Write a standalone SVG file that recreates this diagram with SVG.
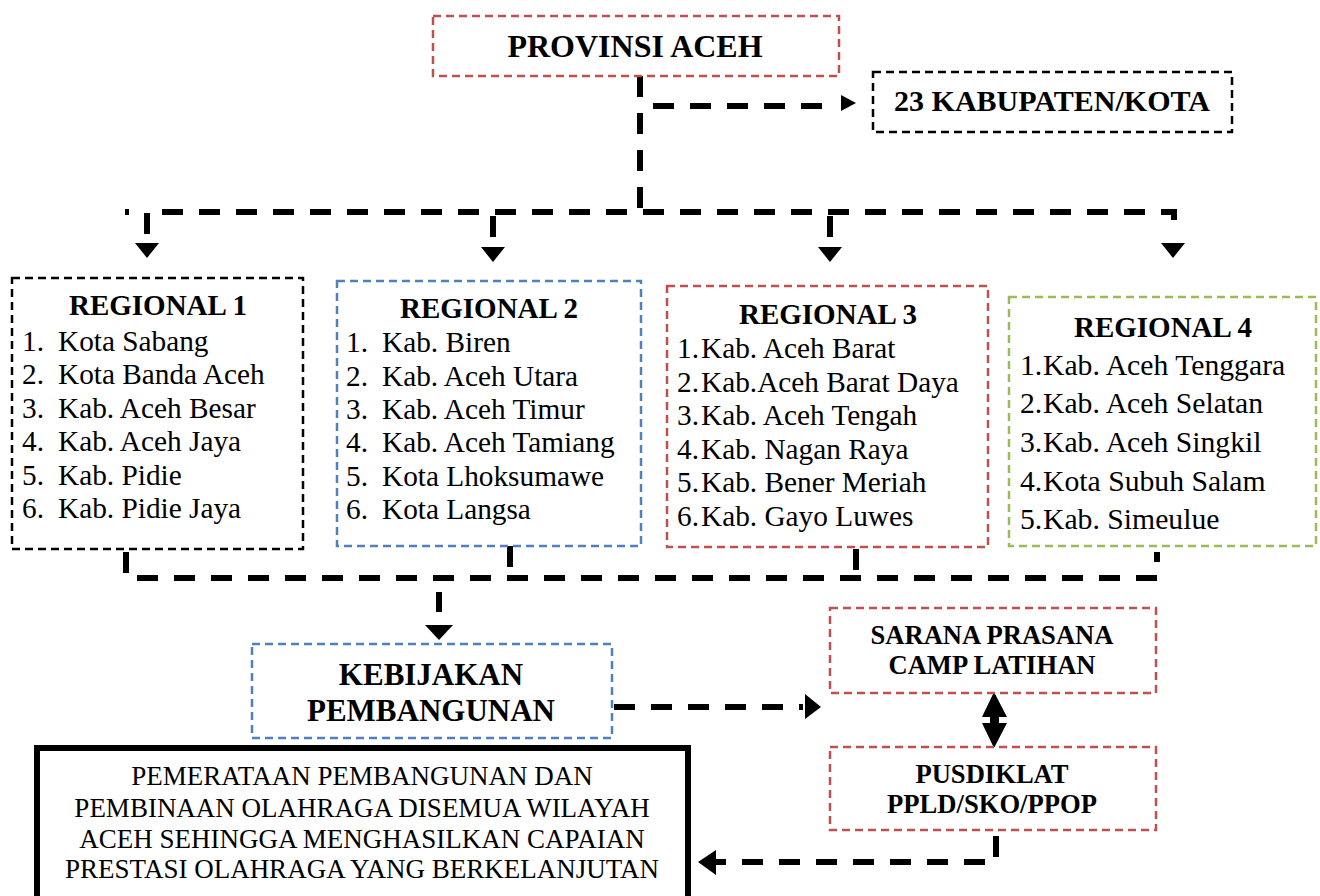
<svg xmlns="http://www.w3.org/2000/svg" width="1320" height="896" viewBox="0 0 1320 896">
<style>
.box{fill:#fff;stroke-width:2.5;stroke-dasharray:8 5}
.red{stroke:#c0504d}.blue{stroke:#4f81bd}.green{stroke:#9bbb59}.blk{stroke:#000}
.t{font-family:"Liberation Serif","Times New Roman",serif;fill:#000}
.b{font-weight:bold}
.conn{fill:none;stroke:#000;stroke-width:6;stroke-dasharray:21 16}
.r13{font-size:29.3px}.r4{font-size:29.7px}.title{font-size:29px;font-weight:bold;text-anchor:middle}
.mid{text-anchor:middle}
</style>
<defs>
<polygon id="ad" points="-12,0 12,0 0,15" fill="#000"/>
<polygon id="ar" points="0,-8 0,8 15,0" fill="#000"/>
</defs>
<rect width="1320" height="896" fill="#fff"/>

<g id="connectors">
<path class="conn" d="M640 76 V212"/>
<path class="conn" d="M653 106 H838"/>
<use href="#ar" x="841" y="103"/>
<path class="conn" d="M125 212 H129"/>
<path class="conn" d="M147 234 V212 H1174 V234"/>
<path class="conn" d="M493 216 V238"/>
<path class="conn" d="M830 216 V238"/>
<use href="#ad" x="147" y="243"/>
<use href="#ad" x="493" y="247"/>
<use href="#ad" x="830" y="247"/>
<use href="#ad" x="1173" y="243"/>
<path class="conn" d="M126 552 V578 H1157 V552"/>
<path class="conn" d="M510 546 V578"/>
<path class="conn" d="M856 549 V578"/>
<path class="conn" d="M439 592 V612"/>
<polygon points="425,625 453,625 439,640" fill="#000"/>
<path class="conn" d="M614 707 H803"/>
<polygon points="805,694 805,719 821,707" fill="#000"/>
<polygon points="994,692 1007,717 999,717 999,723 1007,723 994,748 982,723 990,723 990,717 982,717" fill="#000"/>
<path class="conn" d="M996 836 V862 H716"/>
<polygon points="716,850 716,875 698,862" fill="#000"/>
</g>

<g id="provinsi">
<rect class="box red" x="433" y="16" width="406" height="60"/>
<text class="t b mid" x="635" y="57" font-size="32">PROVINSI ACEH</text>
</g>

<g id="kabupaten">
<rect class="box blk" x="873" y="72" width="359" height="60"/>
<text class="t b mid" x="1052" y="111" font-size="30">23 KABUPATEN/KOTA</text>
</g>

<g id="regional1">
<rect class="box blk" x="12" y="278" width="291" height="271"/>
<text class="t title" x="158" y="315">REGIONAL 1</text>
<g class="t r13">
<text x="22" y="351">1.</text><text x="58" y="351">Kota Sabang</text>
<text x="22" y="384">2.</text><text x="58" y="384">Kota Banda Aceh</text>
<text x="22" y="418">3.</text><text x="58" y="418">Kab. Aceh Besar</text>
<text x="22" y="451">4.</text><text x="58" y="451">Kab. Aceh Jaya</text>
<text x="22" y="485">5.</text><text x="58" y="485">Kab. Pidie</text>
<text x="22" y="518">6.</text><text x="58" y="518">Kab. Pidie Jaya</text>
</g>
</g>

<g id="regional2">
<rect class="box blue" x="337" y="281" width="304" height="265"/>
<text class="t title" x="489" y="318">REGIONAL 2</text>
<g class="t r13">
<text x="346" y="352">1.</text><text x="382" y="352">Kab. Biren</text>
<text x="346" y="386">2.</text><text x="382" y="386">Kab. Aceh Utara</text>
<text x="346" y="419">3.</text><text x="382" y="419">Kab. Aceh Timur</text>
<text x="346" y="452">4.</text><text x="382" y="452">Kab. Aceh Tamiang</text>
<text x="346" y="486">5.</text><text x="382" y="486">Kota Lhoksumawe</text>
<text x="346" y="519">6.</text><text x="382" y="519">Kota Langsa</text>
</g>
</g>

<g id="regional3">
<rect class="box red" x="667" y="286" width="321" height="261"/>
<text class="t title" x="828" y="324">REGIONAL 3</text>
<g class="t r13">
<text x="677" y="358">1.</text><text x="701" y="358">Kab. Aceh Barat</text>
<text x="677" y="392">2.</text><text x="701" y="392">Kab.Aceh Barat Daya</text>
<text x="677" y="425">3.</text><text x="701" y="425">Kab. Aceh Tengah</text>
<text x="677" y="459">4.</text><text x="701" y="459">Kab. Nagan Raya</text>
<text x="677" y="492">5.</text><text x="701" y="492">Kab. Bener Meriah</text>
<text x="677" y="526">6.</text><text x="701" y="526">Kab. Gayo Luwes</text>
</g>
</g>

<g id="regional4">
<rect class="box green" x="1009" y="297" width="307" height="249"/>
<text class="t title" x="1163" y="337">REGIONAL 4</text>
<g class="t r4">
<text x="1020" y="375">1.</text><text x="1043" y="375">Kab. Aceh Tenggara</text>
<text x="1020" y="413">2.</text><text x="1043" y="413">Kab. Aceh Selatan</text>
<text x="1020" y="452">3.</text><text x="1043" y="452">Kab. Aceh Singkil</text>
<text x="1020" y="491">4.</text><text x="1043" y="491">Kota Subuh Salam</text>
<text x="1020" y="529">5.</text><text x="1043" y="529">Kab. Simeulue</text>
</g>
</g>

<g id="kebijakan">
<rect class="box blue" x="252" y="644" width="360" height="94"/>
<text class="t b mid" x="431" y="685" font-size="31">KEBIJAKAN</text>
<text class="t b mid" x="431" y="721" font-size="31">PEMBANGUNAN</text>
</g>

<g id="sarana">
<rect class="box red" x="830" y="608" width="326" height="85"/>
<text class="t b mid" x="992" y="644" font-size="26.6">SARANA PRASANA</text>
<text class="t b mid" x="992" y="674" font-size="26.6">CAMP LATIHAN</text>
</g>

<g id="pusdiklat">
<rect class="box red" x="830" y="747" width="326" height="83"/>
<text class="t b mid" x="992" y="783" font-size="26.6">PUSDIKLAT</text>
<text class="t b mid" x="992" y="813" font-size="26.6">PPLD/SKO/PPOP</text>
</g>

<g id="hasil">
<rect x="37" y="748" width="651" height="160" fill="#fff" stroke="#000" stroke-width="6"/>
<g class="t mid" font-size="27">
<text x="362" y="785">PEMERATAAN PEMBANGUNAN DAN</text>
<text x="362" y="817">PEMBINAAN OLAHRAGA DISEMUA WILAYAH</text>
<text x="362" y="848">ACEH SEHINGGA MENGHASILKAN CAPAIAN</text>
<text x="362" y="878">PRESTASI OLAHRAGA YANG BERKELANJUTAN</text>
</g>
</g>
</svg>
